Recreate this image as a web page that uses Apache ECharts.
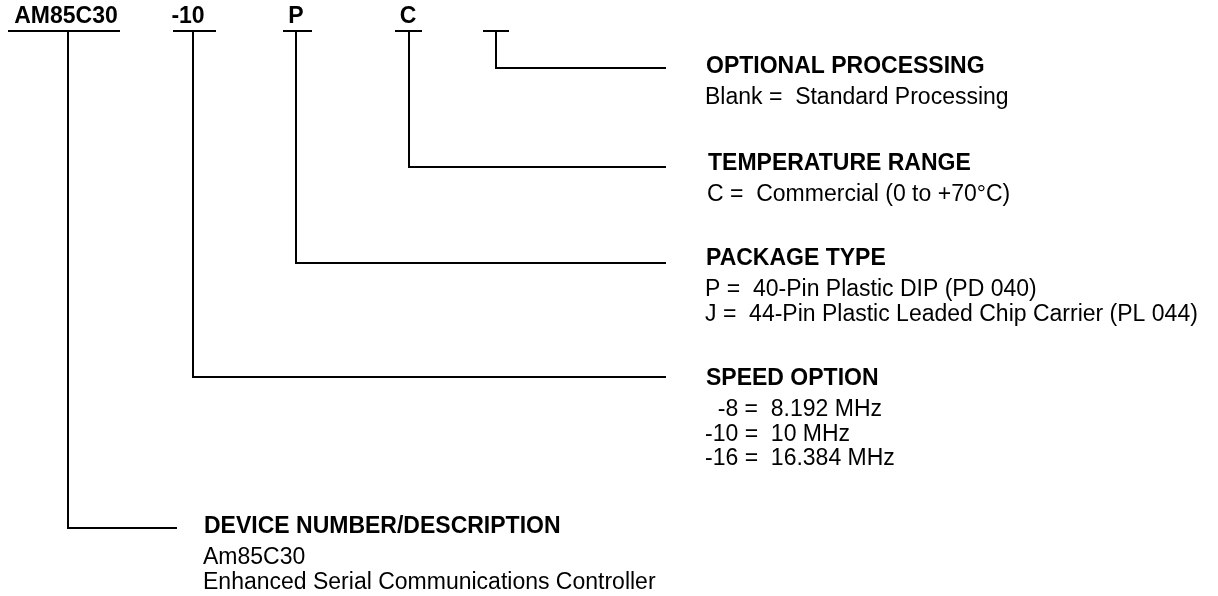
<!DOCTYPE html>
<html>
<head>
<meta charset="utf-8">
<script src="https://cdn.jsdelivr.net/npm/echarts@6/dist/echarts.min.js"></script>
<style>
  html, body { margin: 0; padding: 0; background: #fff; }
  #chart { width: 1218px; height: 596px; }
</style>
</head>
<body>
<div id="chart"></div>
<script>
// ordering code fields, left to right
const codes = ['AM85C30', '-10', 'P', 'C', '']

// description of each field (same order as codes)
const sectionTitles = [
    'DEVICE NUMBER/DESCRIPTION',
    'SPEED OPTION',
    'PACKAGE TYPE',
    'TEMPERATURE RANGE',
    'OPTIONAL PROCESSING'
]
const sectionLines = [
    ['Am85C30', 'Enhanced Serial Communications Controller'],
    ['  -8 =  8.192 MHz', '-10 =  10 MHz', '-16 =  16.384 MHz'],
    ['P =  40-Pin Plastic DIP (PD 040)', 'J =  44-Pin Plastic Leaded Chip Carrier (PL 044)'],
    ['C =  Commercial (0 to +70\u00B0C)'],
    ['Blank =  Standard Processing']
]

// layout of the diagram (axis units = pixels)
const stemX = [68, 193, 296, 409, 496]
const barX = [[8, 120], [173, 216], [283, 312], [395, 422], [483, 509]]
const codeX = [66, 188, 296, 408, 496]
const levelY = [528, 377, 263, 167, 68]
const legEnd = [177, 666, 666, 666, 666]
const textX = [204, 706, 706, 708, 706]
const titleY = [527, 379, 259, 164, 67]
const barY = 31
const FONT = '"Liberation Sans", Arial, Helvetica, sans-serif'

const lineData = []
codes.forEach((c, i) => {
    lineData.push({coords: [[barX[i][0], barY], [barX[i][1], barY]]})
    lineData.push({coords: [[stemX[i], barY], [stemX[i], levelY[i]], [legEnd[i], levelY[i]]]})
})

const codeData = codes.map((c, i) => ({value: [codeX[i], 17], name: c}))
const titleData = sectionTitles.map((t, i) => ({value: [textX[i], titleY[i]], name: t}))
const bodyData = []
sectionLines.forEach((lines, i) => {
    lines.forEach((l, j) => {
        bodyData.push({value: [textX[i] - 1, titleY[i] + 31 + j * 24.5], name: l})
    })
})

function textLabel(align, bold) {
    return {
        show: true,
        position: [0, 0],
        align: align,
        verticalAlign: 'middle',
        formatter: p => p.name,
        color: '#000',
        opacity: 1,
        fontFamily: FONT,
        fontWeight: bold ? 'bold' : 'normal',
        fontSize: 23
    }
}

const myChart = echarts.init(document.getElementById('chart'), null, {renderer: 'canvas'})

const option = {
    backgroundColor: '#fff',
    animation: false,
    grid: {left: 0, right: 0, top: 0, bottom: 0},
    xAxis: {type: 'value', min: 0, max: 1218, show: false},
    yAxis: {type: 'value', min: 0, max: 596, inverse: true, show: false},
    series: [
        {
            type: 'lines',
            coordinateSystem: 'cartesian2d',
            polyline: true,
            silent: true,
            lineStyle: {color: '#000', width: 2, opacity: 1},
            data: lineData
        },
        {
            type: 'scatter',
            symbolSize: 0,
            silent: true,
            data: codeData,
            label: textLabel('center', true)
        },
        {
            type: 'scatter',
            symbolSize: 0,
            silent: true,
            data: titleData,
            label: textLabel('left', true)
        },
        {
            type: 'scatter',
            symbolSize: 0,
            silent: true,
            data: bodyData,
            label: textLabel('left', false)
        }
    ]
}

myChart.setOption(option)
</script>
</body>
</html>
